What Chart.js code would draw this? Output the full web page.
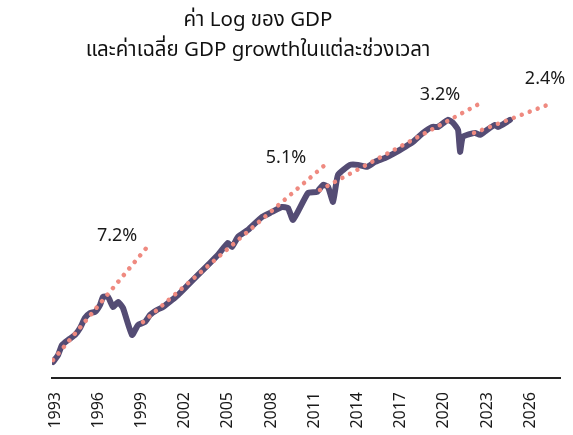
<!DOCTYPE html>
<html>
<head>
<meta charset="utf-8">
<title>ค่า Log ของ GDP</title>
<script src="https://cdn.jsdelivr.net/npm/chart.js@4/dist/chart.umd.min.js"></script>
<style>
  body { margin: 0; background: #fff; }
  #wrap { width: 573px; height: 435px; }
</style>
</head>
<body>
<div id="wrap"><canvas id="stage"></canvas></div>
<script>
// ค่า Log ของ GDP (อ่านค่าจากรูป) 

var gdpYears = [1992.86, 1993.21, 1993.49, 1993.90, 1994.39, 1994.74, 1995.08, 1995.43, 1995.78, 1996.13,
   1996.33, 1996.68, 1997.03, 1997.38, 1997.72, 1998.35, 1998.76, 1999.25, 1999.60, 2000.08,
   2000.50, 2001.13, 2001.54, 2002.24, 2002.93, 2003.63, 2004.32, 2005.01, 2005.29, 2005.71,
   2006.40, 2007.38, 2008.07, 2008.76, 2009.18, 2009.53, 2010.57, 2011.19, 2011.61, 2011.96,
   2012.31, 2012.65, 2013.49, 2014.04, 2014.67, 2015.22, 2015.92, 2016.61, 2017.31, 2017.86,
   2018.56, 2019.18, 2019.60, 2020.29, 2020.64, 2020.99, 2021.13, 2021.33, 2022.17, 2022.51,
   2023.00, 2023.56, 2023.76, 2024.39, 2024.60];

var gdpLog = [13.306, 13.348, 13.409, 13.439, 13.470, 13.512, 13.573, 13.603, 13.609, 13.652,
   13.700, 13.700, 13.639, 13.670, 13.633, 13.470, 13.530, 13.548, 13.591, 13.621,
   13.639, 13.682, 13.712, 13.773, 13.833, 13.894, 13.955, 14.027, 14.003, 14.064,
   14.106, 14.185, 14.215, 14.245, 14.239, 14.167, 14.330, 14.336, 14.379, 14.367,
   14.276, 14.439, 14.500, 14.500, 14.488, 14.518, 14.542, 14.573, 14.609, 14.639,
   14.694, 14.730, 14.730, 14.773, 14.755, 14.712, 14.579, 14.670, 14.694, 14.682,
   14.712, 14.742, 14.730, 14.761, 14.773];

// เส้นค่าเฉลี่ย growth แต่ละช่วง (จุดเริ่ม - จุดจบ)
var trendLabels = ["7.2%", "5.1%", "3.2%", "2.4%"];
var trendStartYears = [1992.86, 1999.11, 2011.40, 2022.10];
var trendStartLog = [13.318, 13.548, 14.348, 14.694];
var trendEndYears = [1999.46, 2011.75, 2022.72, 2027.58];
var trendEndLog = [14.009, 14.500, 14.882, 14.876];

// ตำแหน่งข้อความ %
var labelYears = [1997.31, 2009.04, 2019.74, 2027.03];
var labelLog = [14.070, 14.542, 14.924, 15.021];

var tickYears = [1993, 1996, 1999, 2002, 2005, 2008, 2011, 2014, 2017, 2020, 2023, 2026];

var fontName = "'Noto Sans', 'Noto Sans Thai', sans-serif";

var datasets = [];

// เส้นประ (ใส่ก่อน จะได้อยู่ด้านบนเส้น GDP)
for (var i = 0; i < trendLabels.length; i++) {
   datasets.push({
      label: trendLabels[i],
      data: [
         {x: trendStartYears[i], y: trendStartLog[i]},
         {x: trendEndYears[i], y: trendEndLog[i]}
      ],
      borderColor: "#ef8a80",
      borderWidth: 4.5,
      borderDash: [0.01, 8.5],
      borderCapStyle: "round",
      pointRadius: 0,
      fill: false
   });
}

var gdpPoints = [];
for (var j = 0; j < gdpYears.length; j++) {
   gdpPoints.push({x: gdpYears[j], y: gdpLog[j]});
}

datasets.push({
   label: "Log GDP",
   data: gdpPoints,
   borderColor: "#544c74",
   borderWidth: 6,
   borderJoinStyle: "round",
   borderCapStyle: "round",
   tension: 0.15,
   pointRadius: 0,
   fill: false
});

// ข้อความ % ตามแต่ละช่วง
var growthText = {
   id: "growthText",
   afterDatasetsDraw: function(chart) {
      var ctx = chart.ctx;
      ctx.save();
      ctx.font = "18px " + fontName;
      ctx.fillStyle = "#1a1a1a";
      ctx.textAlign = "center";
      ctx.textBaseline = "middle";
      for (var k = 0; k < trendLabels.length; k++) {
         var px = chart.scales.x.getPixelForValue(labelYears[k]);
         var py = chart.scales.y.getPixelForValue(labelLog[k]);
         ctx.fillText(trendLabels[k], px, py);
      }
      ctx.restore();
   }
};

// ชื่อกราฟอยู่ค่อนไปทางซ้าย
var titleShift = {
   id: "titleShift",
   afterLayout: function(chart) {
      if (chart.titleBlock) {
         chart.titleBlock.left = 0;
         chart.titleBlock.right = 516;
      }
   }
};

var canvas = document.getElementById("stage");
var chart = new Chart(canvas, {
   type: "line",
   data: { datasets: datasets },
   options: {
      responsive: true,
      maintainAspectRatio: false,
      animation: false,
      layout: {
         padding: { left: 52, right: 13, top: 0, bottom: 0 }
      },
      plugins: {
         legend: { display: false },
         tooltip: { enabled: false },
         title: {
            display: true,
            text: ["ค่า Log ของ GDP", "และค่าเฉลี่ย GDP growthในแต่ละช่วงเวลา"],
            color: "#111",
            font: { family: fontName, size: 20.5, weight: "normal", lineHeight: 1.46 },
            padding: { top: 5, bottom: 17.5 }
         }
      },
      scales: {
         x: {
            type: "linear",
            min: 1992.79,
            max: 2028.07,
            afterBuildTicks: function(scale) {
               scale.ticks = tickYears.map(function(v) { return {value: v}; });
            },
            afterFit: function(scale) {
               scale.height = 57;
            },
            grid: { display: false, drawTicks: false, tickLength: 0 },
            border: { display: true, color: "#222", width: 2 },
            ticks: {
               autoSkip: false,
               minRotation: 90,
               maxRotation: 90,
               padding: 14,
               color: "#1a1a1a",
               font: { family: fontName, size: 16 },
               callback: function(value) { return String(value); }
            }
         },
         y: {
            display: false,
            min: 13.209,
            max: 15.0
         }
      }
   },
   plugins: [growthText, titleShift]
});
</script>
</body>
</html>
